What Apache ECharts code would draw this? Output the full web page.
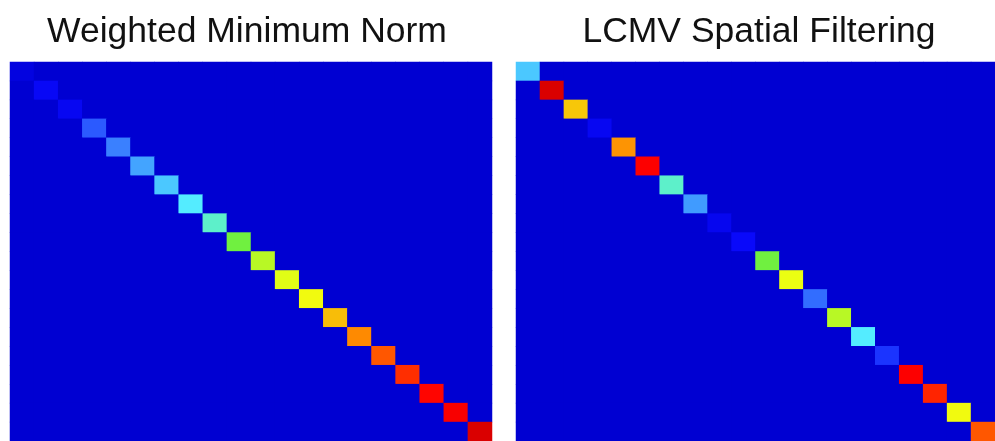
<!DOCTYPE html>
<html>
<head>
<meta charset="utf-8">
<script src="https://cdn.jsdelivr.net/npm/echarts@6/dist/echarts.min.js"></script>
<style>
  html, body { margin: 0; padding: 0; background: #ffffff; }
  #chart { width: 995px; height: 441px; }
</style>
</head>
<body>
<div id="chart"></div>
<script>
// Source indices (rows and columns of the 20 x 20 resolution matrix)
const sources = ['1','2','3','4','5','6','7','8','9','10','11','12','13','14','15','16','17','18','19','20'];

// Panel titles
const panelTitles = ['Weighted Minimum Norm', 'LCMV Spatial Filtering'];

// Diagonal values (normalized) of each method's resolution matrix
const wmnDiagonal  = [0.04, 0.10, 0.09, 0.21, 0.25, 0.29, 0.33, 0.37, 0.41, 0.50,
                      0.57, 0.61, 0.63, 0.69, 0.74, 0.79, 0.83, 0.87, 0.89, 0.96];
const lcmvDiagonal = [0.33, 0.96, 0.68, 0.09, 0.73, 0.88, 0.41, 0.28, 0.08, 0.11,
                      0.50, 0.62, 0.23, 0.57, 0.37, 0.17, 0.88, 0.84, 0.63, 0.79];

// Off-diagonal entries
const offDiagonalValue = 0;

// Jet-like colour ramp (evenly spaced stops from 0 to 1)
const jetColors = ['#0000d2', '#0a0aff', '#3a80ff', '#55f0ff', '#70f040',
                   '#f0ff10', '#ff8000', '#ff0000', '#c80000'];

function matrixFromDiagonal(diag) {
  const out = [];
  for (let i = 0; i < sources.length; i++) {
    for (let j = 0; j < sources.length; j++) {
      out.push([j, i, i === j ? diag[i] : offDiagonalValue]);
    }
  }
  return out;
}

const panels = [
  { left: 10,  top: 62, width: 482, height: 382, titleX: 242 },
  { left: 516, top: 62, width: 482, height: 382, titleX: 754 }
];

const chart = echarts.init(document.getElementById('chart'), null, { renderer: 'canvas' });

const option = {
  backgroundColor: '#ffffff',
  animation: false,
  title: panels.map((p, k) => ({
    text: panelTitles[k],
    left: p.titleX,
    top: 9,
    textAlign: 'center',
    textStyle: {
      fontFamily: 'Liberation Sans, Arial, sans-serif',
      fontSize: 35.5,
      fontWeight: 'normal',
      color: '#111111'
    }
  })),
  grid: panels.map(p => ({
    left: p.left, top: p.top, width: p.width, height: p.height,
    show: true,
    borderWidth: 0,
    backgroundColor: jetColors[0],
    containLabel: false
  })),
  xAxis: panels.map((p, k) => ({
    type: 'category', gridIndex: k, data: sources, show: false
  })),
  yAxis: panels.map((p, k) => ({
    type: 'category', gridIndex: k, data: sources, inverse: true, show: false
  })),
  visualMap: {
    type: 'continuous',
    show: false,
    min: 0,
    max: 1,
    seriesIndex: [0, 1],
    inRange: { color: jetColors }
  },
  series: [wmnDiagonal, lcmvDiagonal].map((diag, k) => ({
    type: 'heatmap',
    xAxisIndex: k,
    yAxisIndex: k,
    data: matrixFromDiagonal(diag),
    itemStyle: { borderWidth: 0 },
    emphasis: { disabled: true },
    progressive: 0
  }))
};

chart.setOption(option);
</script>
</body>
</html>
